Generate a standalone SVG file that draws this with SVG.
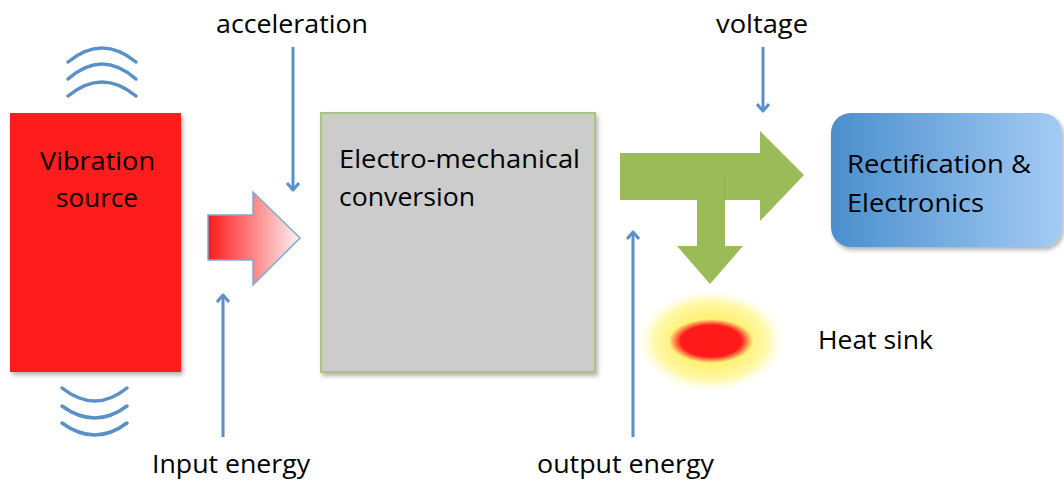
<svg xmlns="http://www.w3.org/2000/svg" width="1064" height="484" viewBox="0 0 1064 484">
<style>
text{font-family:"Open Sans","Liberation Sans",sans-serif;font-size:25px;fill:#000}
.wire{stroke:#5b8fc7;stroke-width:3;fill:none}
.wave{stroke:#5b8fc7;stroke-width:3.5;fill:none;stroke-linecap:round}
</style>
<defs>
<marker id="ah" markerUnits="userSpaceOnUse" markerWidth="16" markerHeight="16" refX="8" refY="8" orient="auto">
<path d="M1,2 L8,8 L1,14" fill="none" stroke="#5b8fc7" stroke-width="3" stroke-linejoin="round"/>
</marker>
<linearGradient id="pink" x1="0" y1="0" x2="1" y2="0">
<stop offset="0" stop-color="#ff1a1a"/><stop offset="1" stop-color="#fff4f4"/>
</linearGradient>
<linearGradient id="blue" x1="0" y1="0" x2="1" y2="0">
<stop offset="0" stop-color="#4a8fcd"/><stop offset="1" stop-color="#a4cbf3"/>
</linearGradient>
<radialGradient id="glow">
<stop offset="0.5" stop-color="#fff27a"/><stop offset="0.75" stop-color="#fff68f" stop-opacity="0.75"/><stop offset="1" stop-color="#ffffff" stop-opacity="0"/>
</radialGradient>
<radialGradient id="hot">
<stop offset="0.72" stop-color="#ff1a1a"/><stop offset="1" stop-color="#ff1a1a" stop-opacity="0"/>
</radialGradient>
<filter id="sh" x="-10%" y="-10%" width="125%" height="125%">
<feDropShadow dx="2" dy="3" stdDeviation="2" flood-color="#000" flood-opacity="0.3"/>
</filter>
</defs>

<g id="vibration-source">
<path class="wave" d="M68,62 Q102,34 136,62 M68,79 Q102,49 136,79 M68,96 Q102,68 136,96"/>
<rect x="10" y="113" width="171" height="259" fill="#fe1e1e" filter="url(#sh)"/>
<text x="40" y="170" textLength="115" lengthAdjust="spacingAndGlyphs">Vibration</text>
<text x="56" y="207" textLength="82" lengthAdjust="spacingAndGlyphs">source</text>
<path class="wave" d="M62,388 Q95,414 127,388 M62,406 Q95,430 127,406 M62,423 Q95,447 127,423"/>
</g>

<g id="input-arrow">
<polygon points="208,215 253,215 253,192 300,238 253,285 253,260 208,260" fill="url(#pink)" stroke="#7fa8d4" stroke-width="1.5"/>
</g>

<g id="conversion">
<rect x="321" y="113" width="274" height="259" fill="#cccccc" stroke="#a9c47c" stroke-width="2" filter="url(#sh)"/>
<text x="339" y="168" textLength="241" lengthAdjust="spacingAndGlyphs">Electro-mechanical</text>
<text x="339" y="206" textLength="136" lengthAdjust="spacingAndGlyphs">conversion</text>
</g>

<g id="output-arrow">
<polygon points="620,153 760,153 760,131 804,175 760,221 760,200 620,200" fill="#9bbb59"/>
<polygon points="697,200 725,200 725,246 743,246 710,284 677,246 697,246" fill="#9bbb59"/>
<line x1="724.5" y1="176" x2="724.5" y2="200" stroke="#8fb04f" stroke-width="1"/>
</g>

<g id="electronics">
<rect x="831" y="113" width="231" height="134" rx="20" fill="url(#blue)" filter="url(#sh)"/>
<text x="847" y="173" textLength="184" lengthAdjust="spacingAndGlyphs">Rectification &amp;</text>
<text x="847" y="212" textLength="137" lengthAdjust="spacingAndGlyphs">Electronics</text>
</g>

<g id="heat-sink">
<ellipse cx="711" cy="341" rx="76" ry="53" fill="url(#glow)"/>
<ellipse cx="711" cy="341" rx="42" ry="22" fill="url(#hot)"/>
<text x="818" y="349" textLength="115" lengthAdjust="spacingAndGlyphs">Heat sink</text>
</g>

<g id="labels">
<text x="216" y="33" textLength="152" lengthAdjust="spacingAndGlyphs">acceleration</text>
<text x="716" y="33" textLength="92" lengthAdjust="spacingAndGlyphs">voltage</text>
<text x="152" y="473" textLength="158" lengthAdjust="spacingAndGlyphs">Input energy</text>
<text x="537" y="473" textLength="177" lengthAdjust="spacingAndGlyphs">output energy</text>
</g>

<g id="connectors">
<line class="wire" x1="293" y1="47" x2="293" y2="190" marker-end="url(#ah)"/>
<line class="wire" x1="763" y1="47" x2="763" y2="111" marker-end="url(#ah)"/>
<line class="wire" x1="223" y1="437" x2="223" y2="295" marker-end="url(#ah)"/>
<line class="wire" x1="633" y1="437" x2="633" y2="232" marker-end="url(#ah)"/>
</g>
</svg>
